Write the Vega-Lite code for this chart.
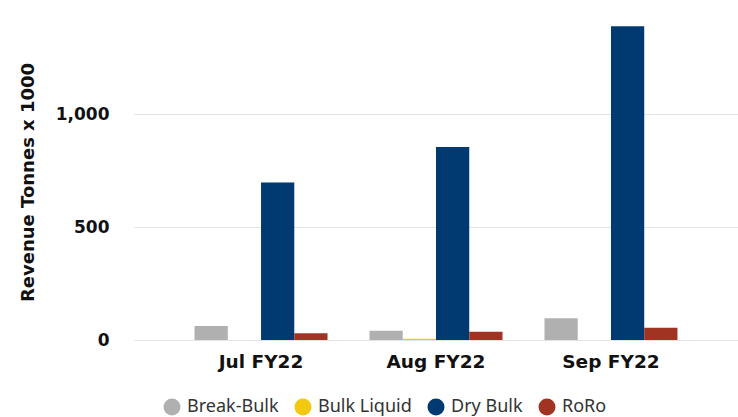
{
  "$schema": "https://vega.github.io/schema/vega-lite/v6.json",
  "autosize": {"type": "none"},
  "padding": {"left": 134, "top": 24, "right": 0, "bottom": 77},
  "width": 604,
  "height": 316,
  "background": "white",
  "data": {
    "values": [
      {"month": "Jul FY22", "cargo": "Break-Bulk", "value": 62},
      {"month": "Jul FY22", "cargo": "Bulk Liquid", "value": 0},
      {"month": "Jul FY22", "cargo": "Dry Bulk", "value": 698},
      {"month": "Jul FY22", "cargo": "RoRo", "value": 30},
      {"month": "Aug FY22", "cargo": "Break-Bulk", "value": 41},
      {"month": "Aug FY22", "cargo": "Bulk Liquid", "value": 6},
      {"month": "Aug FY22", "cargo": "Dry Bulk", "value": 855},
      {"month": "Aug FY22", "cargo": "RoRo", "value": 37},
      {"month": "Sep FY22", "cargo": "Break-Bulk", "value": 96},
      {"month": "Sep FY22", "cargo": "Bulk Liquid", "value": 0},
      {"month": "Sep FY22", "cargo": "Dry Bulk", "value": 1390},
      {"month": "Sep FY22", "cargo": "RoRo", "value": 54}
    ]
  },
  "mark": {"type": "bar"},
  "encoding": {
    "x": {
      "field": "month",
      "type": "nominal",
      "sort": ["Jul FY22", "Aug FY22", "Sep FY22"],
      "scale": {"paddingInner": 0.24, "paddingOuter": 0.346},
      "axis": {
        "title": null,
        "labelAngle": 0,
        "domain": false,
        "ticks": false,
        "labelPadding": 12,
        "labelFont": "DejaVu Sans",
        "labelFontWeight": "bold",
        "labelFontSize": 18.5,
        "labelColor": "#111111"
      }
    },
    "xOffset": {
      "field": "cargo",
      "type": "nominal",
      "sort": ["Break-Bulk", "Bulk Liquid", "Dry Bulk", "RoRo"],
      "scale": {"paddingInner": 0, "paddingOuter": 0}
    },
    "y": {
      "field": "value",
      "type": "quantitative",
      "scale": {"domain": [0, 1400], "nice": false},
      "axis": {
        "title": "Revenue Tonnes x 1000",
        "values": [0, 500, 1000],
        "format": ",d",
        "domain": false,
        "ticks": false,
        "gridColor": "#e3e3e3",
        "gridWidth": 1.2,
        "labelPadding": 25,
        "labelFont": "DejaVu Sans",
        "labelFontWeight": "bold",
        "labelFontSize": 17,
        "labelColor": "#111111",
        "titleFont": "DejaVu Sans",
        "titleFontWeight": "bold",
        "titleFontSize": 18,
        "titleColor": "#111111",
        "titleX": -101,
        "titleY": 158,
        "titleBaseline": "alphabetic",
        "titleAngle": 270,
        "titleAlign": "center"
      }
    },
    "color": {
      "field": "cargo",
      "type": "nominal",
      "sort": ["Break-Bulk", "Bulk Liquid", "Dry Bulk", "RoRo"],
      "scale": {
        "domain": ["Break-Bulk", "Bulk Liquid", "Dry Bulk", "RoRo"],
        "range": ["#b0b0b0", "#f2c811", "#003a70", "#a03322"]
      },
      "legend": {
        "title": null,
        "orient": "none",
        "direction": "horizontal",
        "legendX": 29,
        "legendY": 374,
        "symbolType": "circle",
        "symbolSize": 289,
        "symbolStrokeWidth": 0,
        "labelOffset": 6,
        "columnPadding": 15,
        "labelFont": "Noto Sans",
        "labelFontSize": 18,
        "labelColor": "#333333"
      }
    }
  },
  "config": {
    "view": {"stroke": null}
  }
}
